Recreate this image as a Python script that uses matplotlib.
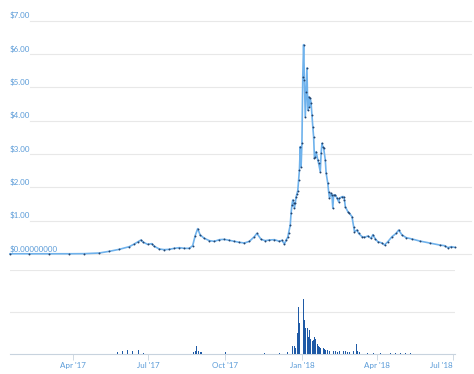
import pandas as pd
import matplotlib
matplotlib.use("Agg")
import matplotlib.pyplot as plt

# --- price series (USD) ---
price_dates = [
    "2017-01-16", "2017-02-08", "2017-03-04", "2017-03-28", "2017-04-15", "2017-05-03",
    "2017-05-15", "2017-05-27", "2017-06-08", "2017-06-14", "2017-06-18", "2017-06-22",
    "2017-06-25", "2017-06-30", "2017-07-05", "2017-07-08", "2017-07-14", "2017-07-20",
    "2017-07-26", "2017-08-01", "2017-08-07", "2017-08-13", "2017-08-19", "2017-08-23",
    "2017-08-26", "2017-08-29", "2017-09-01", "2017-09-06", "2017-09-12", "2017-09-18",
    "2017-09-24", "2017-09-30", "2017-10-06", "2017-10-12", "2017-10-18", "2017-10-24",
    "2017-10-30", "2017-11-05", "2017-11-08", "2017-11-13", "2017-11-18", "2017-11-23",
    "2017-11-29", "2017-12-05", "2017-12-08", "2017-12-11", "2017-12-13", "2017-12-15",
    "2017-12-16", "2017-12-18", "2017-12-19", "2017-12-20", "2017-12-21", "2017-12-22",
    "2017-12-23", "2017-12-24", "2017-12-25", "2017-12-26", "2017-12-27", "2017-12-28",
    "2017-12-29", "2017-12-30", "2017-12-31", "2018-01-01", "2018-01-02", "2018-01-03",
    "2018-01-04", "2018-01-05", "2018-01-06", "2018-01-07", "2018-01-08", "2018-01-09",
    "2018-01-10", "2018-01-11", "2018-01-12", "2018-01-13", "2018-01-14", "2018-01-15",
    "2018-01-16", "2018-01-17", "2018-01-18", "2018-01-20", "2018-01-21", "2018-01-23",
    "2018-01-24", "2018-01-25", "2018-01-26", "2018-01-27", "2018-01-29", "2018-01-30",
    "2018-02-01", "2018-02-02", "2018-02-03", "2018-02-05", "2018-02-06", "2018-02-07",
    "2018-02-08", "2018-02-10", "2018-02-12", "2018-02-14", "2018-02-15", "2018-02-18",
    "2018-02-20", "2018-02-21", "2018-02-22", "2018-02-25", "2018-02-27", "2018-03-02",
    "2018-03-04", "2018-03-05", "2018-03-08", "2018-03-10", "2018-03-14", "2018-03-17",
    "2018-03-21", "2018-03-25", "2018-03-27", "2018-03-30", "2018-04-02", "2018-04-07",
    "2018-04-10", "2018-04-14", "2018-04-19", "2018-04-24", "2018-04-27", "2018-05-01",
    "2018-05-06", "2018-05-13", "2018-05-22", "2018-06-03", "2018-06-15", "2018-06-21",
    "2018-06-25", "2018-06-29", "2018-07-03",
]
price_values = [
    0.006, 0.006, 0.006, 0.007, 0.010, 0.030,
    0.080, 0.140, 0.220, 0.300, 0.360, 0.420,
    0.350, 0.290, 0.310, 0.230, 0.150, 0.130,
    0.140, 0.170, 0.190, 0.170, 0.170, 0.250,
    0.550, 0.760, 0.570, 0.470, 0.400, 0.380,
    0.430, 0.440, 0.410, 0.380, 0.350, 0.330,
    0.380, 0.520, 0.620, 0.440, 0.400, 0.420,
    0.430, 0.380, 0.410, 0.300, 0.420, 0.500,
    0.630, 0.870, 1.230, 1.470, 1.620, 1.530,
    1.380, 1.530, 1.710, 1.800, 1.900, 2.220,
    2.520, 3.220, 2.620, 3.330, 5.320, 6.280,
    5.220, 4.120, 4.870, 5.580, 4.320, 4.720,
    4.420, 4.670, 4.520, 4.170, 3.820, 3.520,
    2.870, 2.920, 3.070, 2.820, 2.720, 2.470,
    3.020, 3.320, 3.220, 3.180, 2.820, 2.430,
    2.120, 1.870, 1.680, 1.820, 1.770, 1.380,
    1.770, 1.770, 1.680, 1.570, 1.670, 1.720,
    1.720, 1.620, 1.420, 1.270, 1.220, 1.120,
    0.820, 0.670, 0.720, 0.620, 0.520, 0.500,
    0.540, 0.470, 0.580, 0.450, 0.370, 0.330,
    0.270, 0.370, 0.520, 0.620, 0.720, 0.570,
    0.490, 0.450, 0.390, 0.330, 0.270, 0.250,
    0.190, 0.220, 0.200,
]

# --- volume (relative units, gridlines at 1 and 2) ---
volume_dates = [
    "2017-05-25", "2017-05-28", "2017-05-31", "2017-06-03", "2017-06-06", "2017-06-09",
    "2017-06-12", "2017-06-16", "2017-06-19", "2017-06-22", "2017-06-25",
    "2017-08-24", "2017-08-26", "2017-08-28", "2017-08-30", "2017-09-01", "2017-09-03",
    "2017-10-01", "2017-11-08", "2017-11-17", "2017-12-05", "2017-12-15",
    "2017-12-19", "2017-12-20", "2017-12-21", "2017-12-23", "2017-12-24", "2017-12-26",
    "2017-12-27", "2017-12-28", "2017-12-29", "2017-12-31", "2018-01-03", "2018-01-04",
    "2018-01-05", "2018-01-06", "2018-01-08", "2018-01-09", "2018-01-10", "2018-01-11",
    "2018-01-13", "2018-01-14", "2018-01-15", "2018-01-16", "2018-01-17", "2018-01-18",
    "2018-01-20", "2018-01-21", "2018-01-22", "2018-01-23", "2018-01-25", "2018-01-27",
    "2018-01-28", "2018-01-29", "2018-01-31", "2018-02-01", "2018-02-03", "2018-02-06",
    "2018-02-08", "2018-02-10", "2018-02-13", "2018-02-15", "2018-02-18", "2018-02-20",
    "2018-02-22", "2018-02-25", "2018-02-27", "2018-03-02", "2018-03-04", "2018-03-07",
    "2018-03-08", "2018-03-09", "2018-03-11", "2018-03-14", "2018-03-21", "2018-03-28",
    "2018-04-05", "2018-04-17", "2018-04-23", "2018-04-29", "2018-05-05", "2018-05-11",
    "2018-05-14",
]
volume_values = [
    0.04, 0.06, 0.08, 0.05, 0.10, 0.06,
    0.07, 0.05, 0.09, 0.06, 0.03,
    0.05, 0.08, 0.19, 0.07, 0.05, 0.04,
    0.04, 0.03, 0.02, 0.03, 0.04,
    0.32, 0.33, 0.18, 0.20, 0.15, 0.62,
    0.50, 1.13, 0.75, 0.78, 1.30, 0.80,
    0.62, 0.45, 0.61, 0.40, 0.57, 0.35,
    0.45, 0.30, 0.33, 0.40, 0.35, 0.22,
    0.25, 0.18, 0.16, 0.14, 0.33, 0.15,
    0.12, 0.10, 0.12, 0.09, 0.08, 0.07,
    0.06, 0.07, 0.05, 0.06, 0.05, 0.06,
    0.08, 0.05, 0.04, 0.05, 0.07, 0.24,
    0.12, 0.08, 0.04, 0.03, 0.03, 0.03,
    0.02, 0.03, 0.02, 0.03, 0.02, 0.03,
    0.09,
]

price_ticks = [0, 1, 2, 3, 4, 5, 6, 7]
price_labels = ["$0.00000000", "$1.00", "$2.00", "$3.00", "$4.00", "$5.00", "$6.00", "$7.00"]
month_ticks = ["2017-04-01", "2017-07-01", "2017-10-01", "2018-01-01", "2018-04-01", "2018-07-01"]
month_labels = ["Apr '17", "Jul '17", "Oct '17", "Jan '18", "Apr '18", "Jul '18"]

LABEL_BLUE = "#5a9bd8"
GRID = "#e8e8e8"
x0 = pd.Timestamp("2017-01-16")
x1 = pd.Timestamp("2018-07-03 12:00")

plt.rcParams["font.family"] = ["Lato", "DejaVu Sans"]
fig = plt.figure(figsize=(4.74, 3.74), dpi=100)
W, H = 474, 374

# price panel
axp = fig.add_axes([10 / W, (H - 259) / H, 445 / W, 245 / H])
axp.set_xlim(x0, x1)
axp.set_ylim(-0.15, 7.2)
for v, lab in zip(price_ticks, price_labels):
    axp.plot([0.045, 1.035], [v, v], transform=axp.get_yaxis_transform(),
             color=GRID, lw=0.8, zorder=0, clip_on=False)
    axp.text(0.0, v + 0.04, lab, transform=axp.get_yaxis_transform(),
             fontsize=5.8, color=LABEL_BLUE, va="bottom", ha="left")
axp.plot(pd.to_datetime(price_dates), price_values, color="#6fb2ec", lw=1.2,
         clip_on=False, zorder=3)
axp.plot(pd.to_datetime(price_dates), price_values, linestyle="none",
         marker="o", markersize=1.4, markerfacecolor="#24446e",
         markeredgewidth=0, clip_on=False, zorder=4)
axp.axis("off")

# volume panel
axv = fig.add_axes([10 / W, (H - 354) / H, 445 / W, 84 / H])
axv.set_xlim(x0, x1)
axv.set_ylim(0, 2.0)
axv.bar(pd.to_datetime(volume_dates), volume_values, width=0.9,
        color="#1f5aa6", zorder=3)
axv.set_yticks([1, 2])
axv.yaxis.grid(True, color=GRID, lw=0.8)
axv.tick_params(axis="y", left=False, labelleft=False)
for s in ["top", "right", "left"]:
    axv.spines[s].set_visible(False)
axv.spines["bottom"].set_color("#c8d3de")
axv.spines["bottom"].set_linewidth(0.8)
axv.set_xticks(pd.to_datetime(month_ticks))
axv.set_xticklabels(month_labels)
axv.tick_params(axis="x", colors="#c8d3de", labelcolor=LABEL_BLUE,
                labelsize=5.8, length=4, width=0.6, pad=2)
axv.get_xticklabels()[-1].set_ha("right")

fig.savefig("out.png", dpi=100)
